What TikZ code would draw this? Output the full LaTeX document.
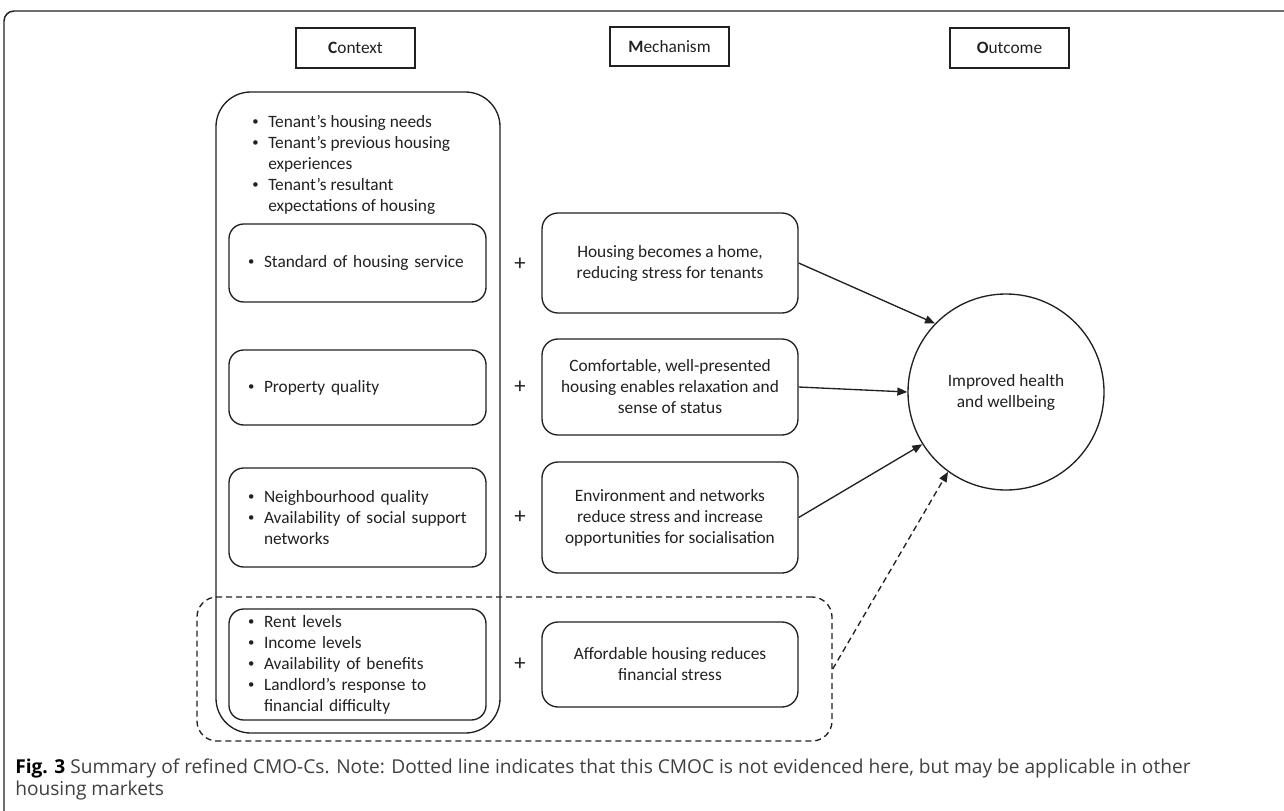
\documentclass[tikz,border=0pt]{standalone}
\usepackage{fontspec}
\setmainfont{Carlito}
\newfontfamily\capfont{Open Sans}
\usetikzlibrary{arrows.meta}
\definecolor{ln}{rgb}{0.13,0.13,0.13}
\definecolor{captxt}{rgb}{0.25,0.25,0.25}
\newcommand\bl{\makebox[12pt][l]{\raisebox{1.2pt}{\fontsize{9.5pt}{9.5pt}\selectfont •}}}
\newcommand\ind{\hspace*{12pt}}
\tikzset{
  txt/.style={font=\fontsize{13pt}{15.75pt}\selectfont, text=ln},
  wh/.style 2 args={minimum width=#1*0.75pt, minimum height=#2*0.75pt},
  hdr/.style={txt, draw=ln, line width=1pt, inner sep=0pt},
  cbox/.style={txt, draw=ln, line width=1pt, rounded corners=11pt, align=left,
     inner xsep=14.25pt, inner ysep=0pt, text width=164.25pt, wh={257}{#1}},
  mbox/.style={txt, draw=ln, line width=1pt, rounded corners=12pt, align=center,
     inner sep=0pt, wh={256}{#1}},
  plus/.style={font=\fontsize{17pt}{17pt}\selectfont, text=ln, inner sep=0pt},
  conn/.style={draw=ln, line width=1pt, -{Triangle[length=7.5pt,width=6pt]}},
}
\begin{document}
\begin{tikzpicture}[x=0.75pt,y=-0.75pt]
\useasboundingbox (0,0) rectangle (1284,810);
\fill[white] (0,0) rectangle (1284,810);
% outer frame
\draw[ln, line width=1.1pt, rounded corners=7.5pt] (4,815) -- (4,11) -- (1290,11);
% headers
\node[hdr, wh={119}{40}] (hC) at (355.5,48) {\textbf{C}ontext};
\node[hdr, wh={119}{39}] (hM) at (669.5,46.5) {\textbf{M}echanism};
\node[hdr, wh={119}{40}] (hO) at (1009.5,48) {\textbf{O}utcome};
% tall context box
\node[draw=ln, line width=1pt, rounded corners=26pt, wh={284}{641}] (ctx) at (358,412.5) {};
\node[txt, anchor=west, align=left, inner sep=0pt] (ctxtop) at (252,164.5)
  {\bl Tenant’s housing needs\\ \bl Tenant’s previous housing\\ \ind experiences\\ \bl Tenant’s resultant\\ \ind expectations of housing};
% context sub boxes
\node[cbox=78] (c1) at (357.5,263) {\bl Standard of housing service};
\node[cbox=75] (c2) at (357.5,387.5) {\bl Property quality};
\node[cbox=99] (c3) at (357.5,517.5) {\bl Neighbourhood quality\\ \bl Availability of social support\\ \ind networks};
\node[cbox=111] (c4) at (357.5,664.5) {\bl Rent levels\\ \bl Income levels\\ \bl Availability of benefits\\ \bl Landlord’s response to\\ \ind financial difficulty};
% plus signs
\node[plus] (p1) at (520,264) {+};
\node[plus] (p2) at (520,387) {+};
\node[plus] (p3) at (520,517) {+};
\node[plus] (p4) at (520,664) {+};
% mechanism boxes
\node[mbox=100] (m1) at (670,263) {Housing becomes a home,\\reducing stress for tenants};
\node[mbox=96] (m2) at (670,387) {Comfortable, well-presented\\housing enables relaxation and\\sense of status};
\node[mbox=111] (m3) at (670,517.5) {Environment and networks\\reduce stress and increase\\opportunities for socialisation};
\node[mbox=85] (m4) at (670,664.5) {Affordable housing reduces\\financial stress};
% dashed group
\node[draw=ln, line width=1pt, dashed, dash pattern=on 4.5pt off 3pt, rounded corners=15pt, wh={635}{144}] (grp) at (514.5,669) {};
% outcome
\node[txt, draw=ln, line width=1pt, circle, minimum size=147pt, align=center, inner sep=0pt] (out) at (1006,392) {Improved health\\and wellbeing};
% connectors
\draw[conn] (m1.east) -- (out.136);
\draw[conn] (m2.east) -- (out.180);
\draw[conn] (m3.east) -- (out.212);
\draw[conn, dashed, dash pattern=on 4.5pt off 3pt] (grp.east) -- (out.234);
% caption
\node[anchor=base west, align=left, inner sep=0pt, text=captxt,
  font=\capfont\fontsize{14.35pt}{16.5pt}\selectfont] (cap) at (15,795)
  {\textcolor{black}{\textbf{Fig. 3}} Summary of refined CMO-Cs. Note: Dotted line indicates that this CMOC is not evidenced here, but may be applicable in other\\housing markets};
\end{tikzpicture}
\end{document}
